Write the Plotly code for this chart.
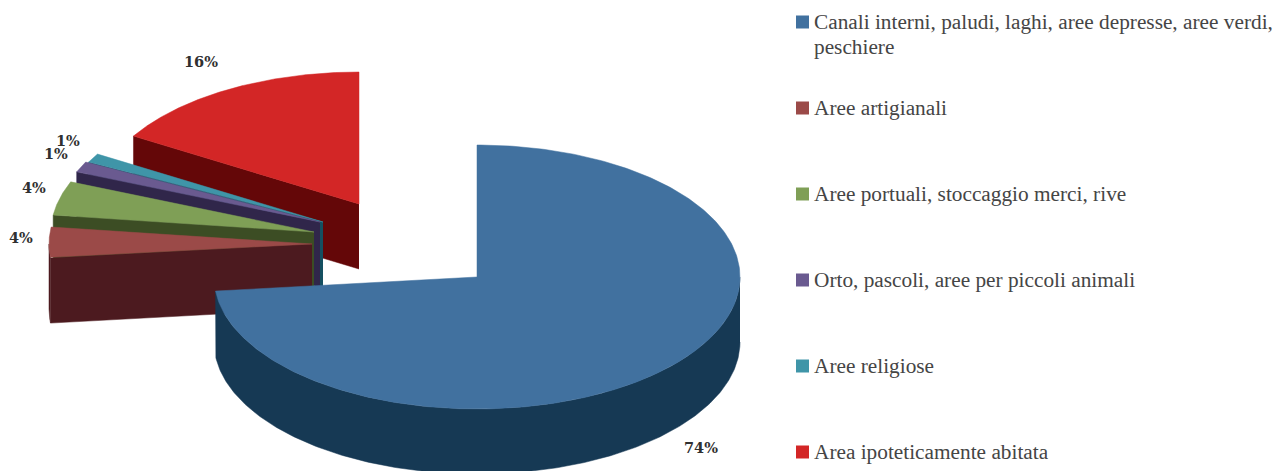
import numpy as np
import plotly.graph_objects as go

# Data
categories = ["Canali interni, paludi, laghi, aree depresse, aree verdi,<br>peschiere",
              "Aree artigianali",
              "Aree portuali, stoccaggio merci, rive",
              "Orto, pascoli, aree per piccoli animali",
              "Aree religiose",
              "Area ipoteticamente abitata"]
values = [73.3, 3.75, 4.15, 1.3, 1.1, 16.4]
percent_labels = ["74%", "4%", "4%", "1%", "1%", "16%"]

# Style
top_colors = ["#41719f", "#9b4a48", "#7f9f56", "#6a5a90", "#3f95a8", "#d32626"]
side_colors = ["#163954", "#4c1a1f", "#3c4d24", "#30264a", "#155061", "#640708"]
apex_x = [477, 312, 314, 320, 323, 359]
apex_y = [277, 244, 232, 222, 222, 204]
label_x = [700.5, 21, 33.5, 55.5, 67.5, 200.5]
label_y = [447, 237, 187, 153, 140, 61.5]
legend_y = [22, 108, 194, 280, 366, 452]
RX, RY, DEPTH = 263, 132, 65

fig = go.Figure()


def px(t, cx):
    return cx + RX * np.sin(np.radians(t))


def py(t, cy):
    return cy - RY * np.cos(np.radians(t))


def poly(x, y, color, name):
    fig.add_trace(go.Scatter(x=list(x), y=list(y), mode="lines", fill="toself",
                             fillcolor=color, line=dict(color=color, width=0.5),
                             name=name, showlegend=False, hoverinfo="name"))


# Angles accumulate clockwise from twelve o'clock.
edges = np.concatenate([[0], np.cumsum(values)]) * 3.6
# Back to front: the last slices sit behind the first ones.
for i in [5, 4, 3, 2, 1, 0]:
    a, b = edges[i], edges[i + 1]
    cx, cy = apex_x[i], apex_y[i]
    sx, sy = px(a, cx), py(a, cy)
    name = categories[i].replace("<br>", " ")
    if i > 0:
        poly([cx, sx, sx, cx], [cy, sy, sy + DEPTH, cy + DEPTH], side_colors[i], name)
    lo, hi = max(a, 90), min(b, 270)
    if hi > lo:
        t = np.linspace(lo, hi, 240)
        poly(np.r_[px(t, cx), px(t, cx)[::-1]],
             np.r_[py(t, cy), py(t, cy)[::-1] + DEPTH], side_colors[i], name)
    t = np.linspace(a, b, 300)
    poly(np.r_[cx, px(t, cx), cx], np.r_[cy, py(t, cy), cy], top_colors[i], name)

# Legend swatches
fig.add_trace(go.Scatter(x=[802.5] * 6, y=legend_y, mode="markers",
                         marker=dict(symbol="square", size=13, color=top_colors),
                         showlegend=False, hoverinfo="skip"))

annotations = []
for cat, y in zip(categories, legend_y):
    for k, line in enumerate(cat.split("<br>")):
        annotations.append(dict(x=812, y=y + 25 * k, text=line, showarrow=False,
                                xanchor="left", yanchor="middle", align="left",
                                font=dict(family="Liberation Serif", size=21.3, color="#454545")))
for text, x, y in zip(percent_labels, label_x, label_y):
    annotations.append(dict(x=x, y=y, text=text, showarrow=False,
                            font=dict(family="DejaVu Serif", size=14.5, color="#303030", weight="bold")))

fig.update_layout(width=1275, height=471, margin=dict(l=0, r=0, t=0, b=0),
                  paper_bgcolor="white", plot_bgcolor="white",
                  xaxis=dict(range=[0, 1275], visible=False, fixedrange=True),
                  yaxis=dict(range=[471, 0], visible=False, fixedrange=True),
                  annotations=annotations, showlegend=False)
fig.write_html("out.html", post_script="document.body.style.margin='0';",
               config={"displayModeBar": False})
